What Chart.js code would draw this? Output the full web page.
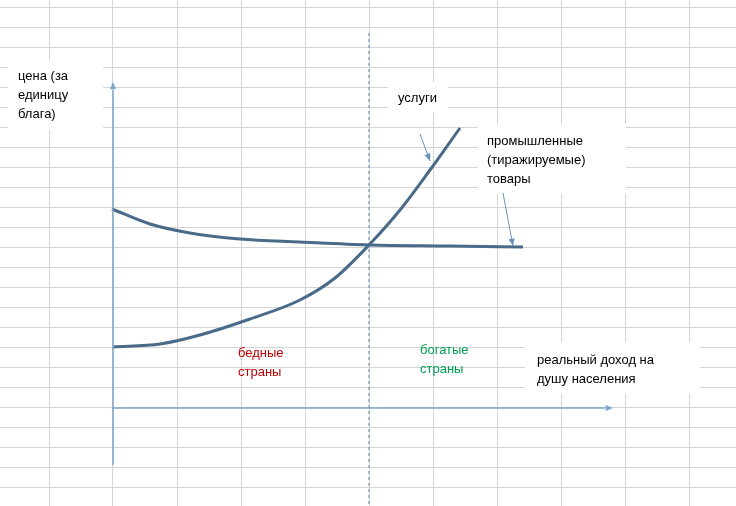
<!DOCTYPE html>
<html><head><meta charset="utf-8">
<script src="https://cdn.jsdelivr.net/npm/chart.js@4"></script>
<style>body{margin:0;background:#fff}#wrap{width:736px;height:506px}</style>
</head><body><div id="wrap"><canvas id="c"></canvas></div>
<script>
// values in picture units (x right, y down)
const goodsX = [112, 150, 190, 240, 300, 369, 450, 523];
const goodsY = [209, 224, 233, 239, 242, 245, 246, 247];
const servX = [113, 160, 200, 250, 300, 335, 369, 400, 430, 460];
const servY = [347, 344, 335, 319, 300, 278, 245, 210, 170, 128];
const gridX = [49, 113, 177, 241, 305, 369, 433, 497, 561, 625, 689];
const gridY = [];
for (let y = 7; y < 506; y += 20) gridY.push(y);

const pts = (xs, ys) => xs.map((x, i) => ({x: x, y: ys[i]}));
const curve = {borderColor: '#4a6a8a', borderWidth: 3, pointRadius: 0, cubicInterpolationMode: 'monotone', showLine: true, fill: false};
const axisLine = {borderColor: '#7ea6c8', borderWidth: 1.5, pointRadius: 0, showLine: true, tension: 0};

function arrowHead(ctx, x1, y1, x2, y2, col) {
  const a = Math.atan2(y2 - y1, x2 - x1), s = 8;
  ctx.fillStyle = col;
  ctx.beginPath();
  ctx.moveTo(x2, y2);
  ctx.lineTo(x2 - s * Math.cos(a - 0.4), y2 - s * Math.sin(a - 0.4));
  ctx.lineTo(x2 - s * Math.cos(a + 0.4), y2 - s * Math.sin(a + 0.4));
  ctx.fill();
}

const labels = [
  {lines: ['цена (за', 'единицу', 'блага)'], x: 18, y: 76, box: [8, 60, 95, 70], col: '#000'},
  {lines: ['услуги'], x: 398, y: 98, box: [388, 82, 60, 30], col: '#000'},
  {lines: ['промышленные', '(тиражируемые)', 'товары'], x: 487, y: 141, box: [478, 124, 148, 70], col: '#000'},
  {lines: ['реальный доход на', 'душу населения'], x: 537, y: 360, box: [525, 342, 175, 52], col: '#000'},
  {lines: ['бедные', 'страны'], x: 238, y: 353, col: '#c00000'},
  {lines: ['богатые', 'страны'], x: 420, y: 350, col: '#00a050'}
];

const overlay = {
  id: 'overlay',
  beforeDatasetsDraw(chart) {
    const ctx = chart.ctx, sx = chart.scales.x, sy = chart.scales.y;
    ctx.save();
    ctx.strokeStyle = '#5b84ad'; ctx.lineWidth = 1; ctx.setLineDash([3, 3]);
    ctx.beginPath(); ctx.moveTo(sx.getPixelForValue(369), sy.getPixelForValue(33));
    ctx.lineTo(sx.getPixelForValue(369), sy.getPixelForValue(506)); ctx.stroke();
    ctx.setLineDash([]);
    ctx.fillStyle = '#fff';
    labels.forEach(l => { if (l.box) ctx.fillRect(sx.getPixelForValue(l.box[0]), sy.getPixelForValue(l.box[1]), l.box[2], l.box[3]); });
    ctx.restore();
  },
  afterDatasetsDraw(chart) {
    const ctx = chart.ctx, sx = chart.scales.x, sy = chart.scales.y;
    const P = (x, y) => [sx.getPixelForValue(x), sy.getPixelForValue(y)];
    ctx.save();
    let a = P(113, 100), b = P(113, 82); arrowHead(ctx, a[0], a[1], b[0], b[1], '#7ea6c8');
    a = P(590, 408); b = P(613, 408); arrowHead(ctx, a[0], a[1], b[0], b[1], '#7ea6c8');
    [[420, 134, 430, 161], [503, 193, 513, 246]].forEach(r => {
      const p = P(r[0], r[1]), q = P(r[2], r[3]);
      ctx.strokeStyle = '#6a93bb'; ctx.lineWidth = 1;
      ctx.beginPath(); ctx.moveTo(p[0], p[1]); ctx.lineTo(q[0], q[1]); ctx.stroke();
      arrowHead(ctx, p[0], p[1], q[0], q[1], '#6a93bb');
    });
    ctx.font = '13px "Liberation Sans", Arial, sans-serif';
    ctx.textBaseline = 'middle';
    labels.forEach(l => {
      ctx.fillStyle = l.col;
      l.lines.forEach((t, i) => { const p = P(l.x, l.y + i * 19); ctx.fillText(t, p[0], p[1]); });
    });
    ctx.restore();
  }
};

new Chart(document.getElementById('c'), {
  type: 'scatter',
  data: {datasets: [
    Object.assign({data: pts([113, 113], [465, 90])}, axisLine),
    Object.assign({data: pts([113, 605], [408, 408])}, axisLine),
    Object.assign({data: pts(goodsX, goodsY)}, curve),
    Object.assign({data: pts(servX, servY)}, curve)
  ]},
  options: {
    responsive: true, maintainAspectRatio: false, animation: false,
    layout: {padding: 0},
    plugins: {legend: {display: false}, tooltip: {enabled: false}},
    scales: {
      x: {min: 0, max: 736, border: {display: false}, ticks: {display: false},
          afterBuildTicks: s => { s.ticks = gridX.map(v => ({value: v})); },
          grid: {color: '#d4d4d4', drawTicks: false}},
      y: {min: 0, max: 506, reverse: true, border: {display: false}, ticks: {display: false},
          afterBuildTicks: s => { s.ticks = gridY.map(v => ({value: v})); },
          grid: {color: '#d4d4d4', drawTicks: false}}
    }
  },
  plugins: [overlay]
});
</script></body></html>
